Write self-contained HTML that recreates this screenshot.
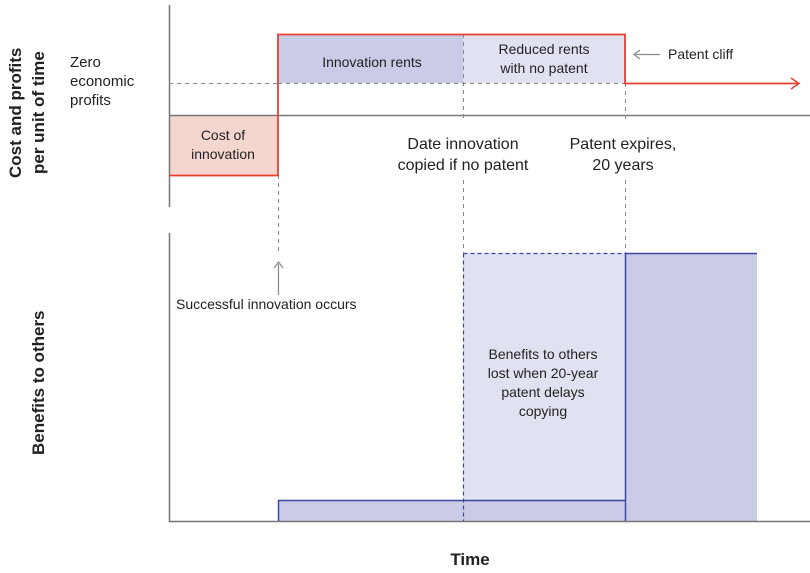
<!DOCTYPE html>
<html><head><meta charset="utf-8"><style>
body{margin:0;background:#fff}
svg{display:block}
text{font-family:"Liberation Sans",sans-serif;fill:#222}
</style></head><body>
<svg width="810" height="573" viewBox="0 0 810 573">
<rect x="169" y="115" width="109" height="60" fill="#f5d6cf"/>
<rect x="278" y="34" width="185" height="49" fill="#c9cbe7"/>
<rect x="463" y="34" width="162" height="49" fill="#e1e2f1"/>
<rect x="463" y="253" width="162" height="247" fill="#e1e2f1"/>
<rect x="278" y="500" width="347" height="21" fill="#c9cbe7"/>
<rect x="625" y="253" width="132" height="268" fill="#c9cbe7"/>
<line x1="169.5" y1="5" x2="169.5" y2="207" stroke="#777" stroke-width="1.5"/>
<line x1="169" y1="115.5" x2="810" y2="115.5" stroke="#777" stroke-width="1.5"/>
<line x1="169.5" y1="233" x2="169.5" y2="522" stroke="#777" stroke-width="1.5"/>
<line x1="169" y1="521.5" x2="810" y2="521.5" stroke="#777" stroke-width="1.5"/>
<g stroke="#888" stroke-width="1" stroke-dasharray="4,4" fill="none">
<line x1="169" y1="83.5" x2="278" y2="83.5"/>
<line x1="278" y1="83.5" x2="625" y2="83.5"/>
<line x1="278.5" y1="175" x2="278.5" y2="255"/>
<line x1="463.5" y1="34" x2="463.5" y2="120"/>
<line x1="463.5" y1="180" x2="463.5" y2="253"/>
<line x1="625.5" y1="83" x2="625.5" y2="120"/>
<line x1="625.5" y1="180" x2="625.5" y2="253"/>
</g>
<polyline points="169,175.5 278,175.5 278,34.5 625,34.5 625,83.5 798,83.5" fill="none" stroke="#e8402f" stroke-width="1.8"/>
<polyline points="791,78 799,83.5 791,89" fill="none" stroke="#e8402f" stroke-width="1.5"/>
<g stroke="#3d46a0" stroke-width="1.5" fill="none">
<polyline points="278.5,521 278.5,500.5 625,500.5"/>
<polyline points="625.5,521 625.5,253.5 757,253.5"/>
</g>
<g stroke="#3d46a0" stroke-width="1.2" stroke-dasharray="4,3" fill="none">
<line x1="463.5" y1="253.5" x2="625" y2="253.5"/>
<line x1="463.5" y1="253.5" x2="463.5" y2="521"/>
</g>
<g stroke="#888" stroke-width="1.2" fill="none">
<line x1="278.5" y1="264" x2="278.5" y2="295"/>
<polyline points="274,268 278.5,262 283,268"/>
<line x1="635" y1="54.5" x2="660" y2="54.5"/>
<polyline points="640,50 634,54.5 640,59"/>
</g>
<g font-size="14" text-anchor="middle">
<text x="372" y="67">Innovation rents</text>
<text x="544" y="54">Reduced rents</text>
<text x="544" y="73">with no patent</text>
<text x="223" y="140">Cost of</text>
<text x="223" y="159">innovation</text>
<text x="463" y="149" font-size="16">Date innovation</text>
<text x="463" y="170" font-size="16">copied if no patent</text>
<text x="623" y="149" font-size="16">Patent expires,</text>
<text x="623" y="170" font-size="16">20 years</text>
<text x="543" y="359">Benefits to others</text>
<text x="543" y="378">lost when 20-year</text>
<text x="543" y="397">patent delays</text>
<text x="543" y="416">copying</text>
<text x="470" y="565" font-size="17" font-weight="bold">Time</text>
</g>
<text x="668" y="59" font-size="14">Patent cliff</text>
<text x="176" y="309" font-size="14">Successful innovation occurs</text>
<g font-size="15">
<text x="70" y="67">Zero</text>
<text x="70" y="86">economic</text>
<text x="70" y="105">profits</text>
</g>
<text transform="translate(21,178) rotate(-90)" font-size="17" font-weight="bold">Cost and profits</text>
<text transform="translate(44,174) rotate(-90)" font-size="17" font-weight="bold">per unit of time</text>
<text transform="translate(44,455) rotate(-90)" font-size="17" font-weight="bold">Benefits to others</text>
</svg>
</body></html>
